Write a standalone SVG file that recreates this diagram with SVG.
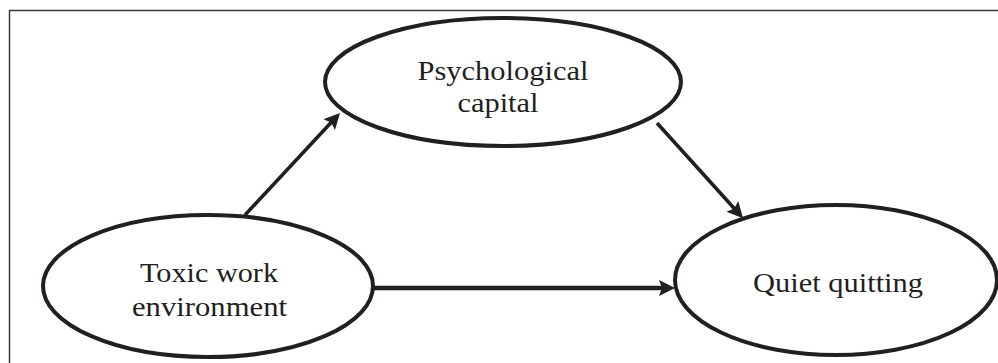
<svg xmlns="http://www.w3.org/2000/svg" width="998" height="363" viewBox="0 0 998 363">
  <style>
    .node { fill: #ffffff; stroke: #231f20; stroke-width: 4; }
    .label { font-family: 'Liberation Serif', 'Times New Roman', Times, serif; font-size: 28px; fill: #231f20; text-anchor: middle; }
    .conn { stroke: #231f20; stroke-width: 3.6; fill: none; marker-end: url(#arrow); }
  </style>
  <defs>
    <marker id="arrow" markerUnits="userSpaceOnUse" markerWidth="16" markerHeight="16" viewBox="0 0 16 16" refX="7" refY="8" orient="auto">
      <path d="M0,0 L16,8 L0,16 L3,8 z" fill="#231f20"/>
    </marker>
  </defs>
  <rect x="9.5" y="10.5" width="1000" height="400" fill="#ffffff" stroke="#3a3a3a" stroke-width="1.5"/>
  <g id="connectors">
    <path class="conn" d="M245,215 L333.9,119.5"/>
    <path class="conn" d="M657,123 L737,211.5"/>
    <path class="conn" d="M373,288 L666,288" style="stroke-width:4.6"/>
  </g>
  <g id="psychological-capital">
    <ellipse class="node" cx="503" cy="82" rx="178" ry="64"/>
    <text class="label" x="503" y="80" textLength="171" lengthAdjust="spacingAndGlyphs">Psychological</text>
    <text class="label" x="498" y="112" textLength="81" lengthAdjust="spacingAndGlyphs">capital</text>
  </g>
  <g id="toxic-work-environment">
    <ellipse class="node" cx="208" cy="286" rx="165" ry="71"/>
    <text class="label" x="209" y="282" textLength="138" lengthAdjust="spacingAndGlyphs">Toxic work</text>
    <text class="label" x="209.5" y="316" textLength="155" lengthAdjust="spacingAndGlyphs">environment</text>
  </g>
  <g id="quiet-quitting">
    <ellipse class="node" cx="836" cy="280" rx="161" ry="75"/>
    <text class="label" x="838" y="292" textLength="170" lengthAdjust="spacingAndGlyphs">Quiet quitting</text>
  </g>
</svg>
